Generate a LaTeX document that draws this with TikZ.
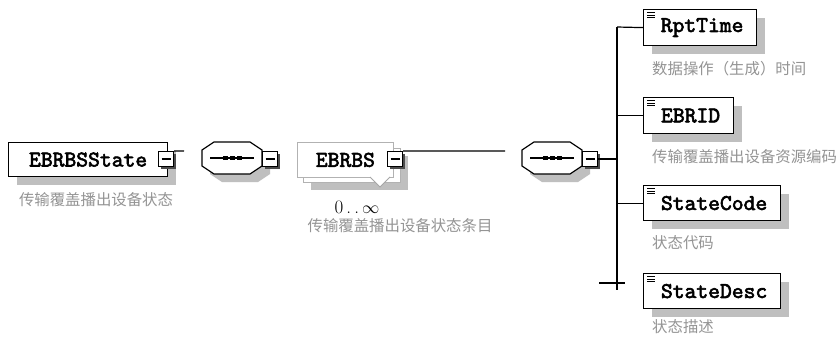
\documentclass[tikz,border=0pt]{standalone}
\usepackage{fontspec}
\newfontfamily\elfont[FakeBold=2.6]{lmmono10-regular.otf}
\newfontfamily\cjk{Noto Sans CJK SC}
\usetikzlibrary{shadows}
\tikzset{
  shad/.style={drop shadow={shadow xshift=8pt,shadow yshift=-8pt,fill=black!25,opacity=1}},
  elem/.style={draw=black,line width=1.2pt,fill=white,anchor=north west,inner sep=0pt,
    font=\elfont\fontsize{22.5}{24}\selectfont,shad},
  multi/.style={draw=black!30,line width=0.8pt,fill=white,anchor=north west,inner sep=0pt,
    font=\elfont\fontsize{22.5}{24}\selectfont},
  lab/.style={font=\cjk\fontsize{15.4}{18}\selectfont,text=black!42,inner sep=0pt},
  seqbox/.style={draw=none,minimum width=60pt,minimum height=32pt,inner sep=0pt},
  mbox/.style={draw=black,line width=1.2pt,fill=white,minimum size=15pt,inner sep=0pt,
    drop shadow={shadow xshift=2pt,shadow yshift=-2pt,fill=black!70,opacity=1},
    path picture={\draw[line width=1.3pt] ([xshift=3pt]path picture bounding box.west) -- ([xshift=-3pt]path picture bounding box.east);}},
  conn/.style={draw=black,line width=1.2pt},
}
\newcommand{\elemicon}[1]{%
  \foreach \k in {3.5,6,8.5}
    \draw[line width=0.8pt] ([xshift=4pt,yshift=-\k pt]#1.north west) -- ++(8,0);}
\newcommand{\octpath}{(-18,-16) -- (18,-16) -- (30,-8) -- (30,8) -- (18,16) -- (-18,16) -- (-30,8) -- (-30,-8) -- cycle}
\newcommand{\octa}[2]{%
  \begin{scope}[shift={(#1,#2)}]
    \fill[black!25,shift={(8,8)}] \octpath;
    \draw[line width=1.2pt,fill=white] \octpath;
    \draw[line width=1.2pt] (-22,0) -- (22,0);
    \foreach \d in {-7,0,7} \fill (\d-2.5,-2) rectangle (\d+2.5,2);
  \end{scope}}
\begin{document}
\begin{tikzpicture}[x=1pt,y=-1pt]
\useasboundingbox[fill=white] (0,0) rectangle (840,338);

% root element
\node[elem,minimum width=159pt,minimum height=34pt] (root) at (8,142) {EBRBSState\hspace{6pt}};
\node[mbox] (m1) at (166,159) {};
\node[lab] (lroot) at (96,200) {传输覆盖播出设备状态};
\coordinate (e1) at (184,151);
\draw[conn] (m1.north east) -- (e1);

% first sequence
\octa{232}{158}
\node[seqbox] (s1) at (232,158) {};
\node[mbox] (m2) at (270,159) {};

% EBRBS (multiple)
\fill[black!25] (311,156) rectangle (408,190);
\node[multi,minimum width=97pt,minimum height=34pt] (back) at (303,148) {};
\node[multi,minimum width=96pt,minimum height=35pt] (ebrbs) at (297,142) {EBRBS\hspace{8pt}};
\draw[black!35,line width=0.8pt,fill=white] (370,177) -- (380,187) -- (390,177);
\node[mbox] (m3) at (395,159) {};
\node[inner sep=0pt,font=\fontsize{19}{21}\selectfont] (card) at (357,207) {0\,.\,.\,$\infty$};
\node[lab] (lebrbs) at (400,226) {传输覆盖播出设备状态条目};
\coordinate (e3) at (505,151);
\draw[conn] (m3.north east) -- (e3);

% second sequence
\octa{552}{158}
\node[seqbox] (s2) at (552,158) {};
\node[mbox] (m4) at (590,159) {};

% children
\node[elem,minimum width=113pt,minimum height=36pt] (rpt) at (643,9) {\hspace{4pt}RptTime};
\node[elem,minimum width=90pt,minimum height=36pt] (ebrid) at (643,97) {\hspace{4pt}EBRID};
\node[elem,minimum width=137pt,minimum height=35pt] (code) at (643,185) {\hspace{4pt}StateCode};
\node[elem,minimum width=137pt,minimum height=35pt] (desc) at (643,273) {\hspace{4pt}StateDesc};
\elemicon{rpt}\elemicon{ebrid}\elemicon{code}\elemicon{desc}

\node[lab,anchor=west] (lrpt) at (652,69) {数据操作（生成）时间};
\node[lab,anchor=west] (lebrid) at (652,157) {传输覆盖播出设备资源编码};
\node[lab,anchor=west] (lcode) at (652,243) {状态代码};
\node[lab,anchor=west] (ldesc) at (652,327) {状态描述};

% trunk
\coordinate (tTop) at (617,27);
\coordinate (tBot) at (617,290);
\coordinate (tickL) at (599,283);
\coordinate (tickR) at (625,283);
\draw[conn] (tTop) -- (tBot);
\draw[conn] (tTop) -- (rpt.west);
\draw[conn] (ebrid.west -| tTop) -- (ebrid.west);
\draw[conn] (code.west -| tTop) -- (code.west);
\draw[conn] (tickL) -- (tickR);
\draw[conn] (m4.east) -- (m4.east -| tTop);
\end{tikzpicture}
\end{document}
